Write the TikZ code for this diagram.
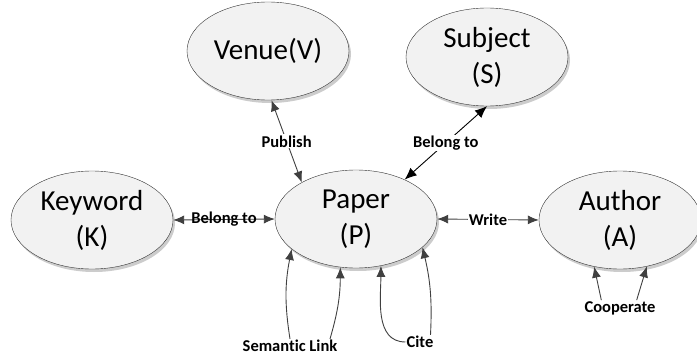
\documentclass[tikz,border=0pt]{standalone}
\usepackage{fontspec}
\setmainfont[Ligatures={NoCommon}]{Carlito}
\usetikzlibrary{shapes.geometric,arrows.meta,shadows}
\begin{document}
\begin{tikzpicture}[x=1pt,y=-1pt,
	entity/.style={ellipse, draw=black!80, thin, minimum width=162pt, minimum height=98pt, inner sep=0pt,
		fill=black!5, align=center, font=\fontsize{29}{36}\selectfont,
		drop shadow={shadow xshift=2pt, shadow yshift=-3pt, fill=black!20, opacity=1}},
	rel/.style={font=\bfseries\fontsize{16.5}{19}\selectfont, inner sep=1pt},
	link/.style={draw=black!75, line width=0.9pt, {Latex[length=11pt,width=9pt]}-{Latex[length=11pt,width=9pt]}},
	loop/.style={draw=black!75, line width=0.9pt, -{Latex[length=11pt,width=9pt]}}]
	\useasboundingbox (0,0) rectangle (697,356);
	
	% Entites
	\node[entity] (venue) at (268,51) {Venue(V)};
	\node[entity] (subject) at (487,57) {Subject\\(S)};
	\node[entity] (keyword) at (92,220) {Keyword\\(K)};
	\node[entity] (paper) at (356,219) {Paper\\(P)};
	\node[entity] (author) at (620,220) {Author\\(A)};
	
	% Relations
	\draw[link] (venue.-86) -- node[rel, fill=white] {Publish} (paper.146);
	\draw[link, draw=black, {Latex[length=12pt,width=10pt]}-{Latex[length=12pt,width=10pt]}] (subject.-90) -- node[rel, fill=white] {Belong to} (paper.39);
	\draw[link] (keyword.east) -- node[rel] {Belong to} (paper.west);
	\draw[link] (paper.east) -- node[rel, fill=white] {Write} (author.west);
	
	% Boucles
	\node[rel] (semlink) at (290,346) {Semantic Link};
	\draw[loop] (semlink.north) to[bend left=10] (paper.-155);
	\draw[loop] ([xshift=40pt]semlink.north) to[bend right=8] (paper.-108);
	\node[rel] (cite) at (420,342) {Cite};
	\draw[loop] (cite.west) to[out=180,in=-90] (paper.-62);
	\draw[loop] ([xshift=-4pt]cite.north east) to[bend right=8] (paper.-23);
	\node[rel] (coop) at (620,308) {Cooperate};
	\draw[loop] ([xshift=18pt]coop.north west) -- (author.-119);
	\draw[loop] ([xshift=-20pt]coop.north east) -- (author.-60);
\end{tikzpicture}
\end{document}
